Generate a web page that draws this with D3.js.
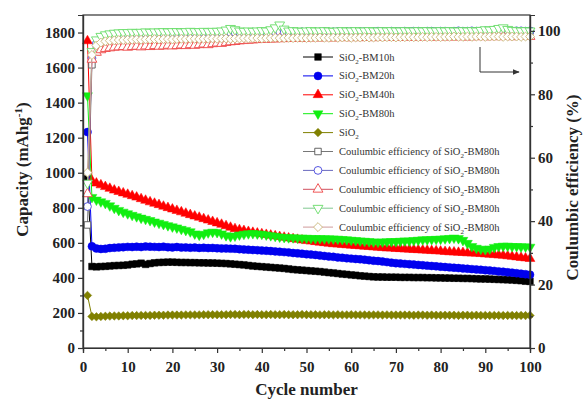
<!DOCTYPE html>
<html>
<head>
<meta charset="utf-8">
<script src="https://cdn.jsdelivr.net/npm/d3@7"></script>
<style>
  body { margin: 0; background: #fff; }
  text { font-family: "Liberation Serif", "Times New Roman", serif; }
</style>
</head>
<body>
<div id="chart"></div>
<script>
// Capacity (mAh g-1), cycles 1..100
const capBM10h = [
  965, 465, 463, 465, 466, 468, 470, 471, 472, 474,
  478, 480, 484, 477, 482, 486, 488, 489, 490, 490,
  489, 488, 488, 487, 487, 486, 486, 485, 485, 484,
  483, 482, 480, 478, 476, 474, 471, 468, 466, 464,
  462, 460, 458, 456, 454, 451, 448, 446, 444, 442,
  440, 438, 436, 433, 430, 428, 425, 422, 420, 417,
  415, 412, 410, 408, 406, 405, 405, 404, 404, 404,
  403, 403, 403, 402, 402, 402, 401, 401, 400, 400,
  399, 399, 398, 398, 397, 397, 396, 395, 394, 394,
  393, 392, 391, 390, 389, 388, 386, 384, 381, 380];
const capBM20h = [
  1232, 580, 568, 565, 566, 570, 572, 574, 575, 577,
  576, 578, 576, 579, 578, 577, 576, 578, 575, 574,
  576, 573, 574, 572, 573, 571, 572, 570, 571, 569,
  568, 568, 567, 566, 564, 562, 561, 559, 558, 556,
  555, 553, 551, 549, 547, 545, 542, 540, 538, 535,
  533, 531, 528, 525, 522, 520, 517, 515, 512, 510,
  508, 506, 504, 501, 498, 496, 493, 490, 487, 484,
  482, 480, 478, 476, 474, 472, 470, 468, 466, 464,
  462, 460, 458, 456, 454, 452, 450, 448, 446, 444,
  442, 440, 437, 435, 432, 430, 427, 424, 421, 418];
const capBM40h = [
  1752, 955, 940, 930, 920, 910, 900, 892, 884, 876,
  868, 860, 851, 842, 833, 825, 817, 808, 800, 792,
  784, 776, 768, 760, 752, 745, 737, 729, 721, 713,
  705, 697, 688, 680, 674, 669, 664, 659, 655, 651,
  647, 643, 639, 635, 631, 627, 623, 619, 615, 612,
  609, 606, 603, 600, 597, 594, 592, 590, 588, 586,
  584, 582, 580, 578, 576, 574, 572, 570, 569, 567,
  566, 564, 563, 561, 560, 558, 557, 555, 554, 552,
  550, 548, 547, 545, 544, 542, 541, 540, 538, 536,
  534, 532, 530, 528, 525, 522, 519, 516, 513, 510];
const capBM80h = [
  1440, 860, 845, 835, 826, 812, 798, 786, 776, 767,
  758, 750, 742, 735, 728, 720, 713, 706, 699, 692,
  686, 678, 672, 664, 652, 645, 650, 658, 662, 660,
  652, 642, 636, 640, 646, 650, 653, 654, 652, 650,
  646, 642, 638, 634, 632, 630, 630, 628, 628, 627,
  626, 625, 625, 624, 624, 623, 622, 620, 618, 616,
  614, 612, 610, 608, 606, 605, 606, 607, 608, 608,
  610, 612, 612, 614, 616, 618, 619, 620, 621, 622,
  624, 626, 628, 625, 615, 598, 580, 570, 565, 562,
  566, 575, 580, 582, 582, 580, 580, 578, 578, 576];
const capSiO2 = [
  300, 180, 178, 180, 181, 182, 183, 183, 184, 184,
  185, 185, 186, 186, 186, 187, 187, 187, 188, 188,
  188, 188, 189, 189, 189, 189, 190, 190, 190, 190,
  190, 190, 191, 191, 190, 191, 191, 190, 191, 190,
  190, 191, 190, 190, 191, 190, 190, 190, 191, 190,
  190, 190, 189, 190, 190, 189, 190, 189, 189, 190,
  189, 189, 189, 188, 189, 189, 188, 189, 188, 188,
  188, 188, 188, 187, 188, 188, 187, 188, 187, 187,
  187, 187, 187, 186, 187, 187, 186, 187, 186, 186,
  186, 186, 186, 185, 186, 186, 185, 186, 185, 185];

// Coulombic efficiency (%), cycles 1..100
const ceSquare = [
  38.8, 89.3, 95.4, 96.9, 97.6, 98.0, 98.3, 98.5, 98.6, 98.8,
  98.9, 98.9, 99.0, 99.0, 99.1, 99.0, 99.1, 99.2, 99.1, 99.2,
  99.2, 99.3, 99.2, 99.3, 99.3, 99.2, 99.3, 99.4, 99.3, 99.4,
  99.4, 99.3, 99.5, 99.4, 99.4, 99.5, 99.4, 99.5, 99.5, 99.4,
  99.5, 99.6, 99.5, 99.5, 99.6, 99.5, 99.6, 99.6, 99.5, 99.6,
  99.6, 99.7, 99.6, 99.6, 99.7, 99.6, 99.7, 99.7, 99.6, 99.7,
  99.7, 99.6, 99.7, 99.8, 99.7, 99.7, 99.8, 99.7, 99.7, 99.8,
  99.8, 99.7, 99.8, 99.8, 99.7, 99.8, 99.9, 99.8, 99.8, 99.7,
  99.8, 99.9, 99.8, 99.8, 99.9, 99.8, 99.9, 99.8, 99.9, 99.9,
  99.8, 99.9, 99.9, 99.8, 99.9, 99.9, 99.8, 99.9, 99.9, 99.9];
const ceCircle = [
  44.6, 91.4, 96.0, 97.4, 98.0, 98.4, 98.6, 98.8, 98.9, 99.0,
  99.0, 99.1, 99.1, 99.2, 99.1, 99.2, 99.2, 99.3, 99.2, 99.3,
  99.3, 99.4, 99.3, 99.4, 99.4, 99.3, 99.4, 99.5, 99.4, 99.5,
  99.5, 99.4, 99.5, 99.5, 99.6, 99.5, 99.5, 99.6, 99.5, 99.6,
  99.6, 99.5, 99.6, 99.7, 99.6, 99.6, 99.7, 99.6, 99.7, 99.7,
  99.6, 99.7, 99.7, 99.8, 99.7, 99.7, 99.8, 99.7, 99.8, 99.8,
  99.7, 99.8, 99.8, 99.7, 99.8, 99.9, 99.8, 99.8, 99.9, 99.8,
  99.8, 99.9, 99.8, 99.9, 99.9, 99.8, 99.9, 99.9, 99.8, 99.9,
  99.9, 99.8, 99.9, 100.0, 99.9, 99.9, 100.0, 99.9, 99.9, 100.0,
  99.9, 100.0, 99.9, 99.9, 100.0, 99.9, 100.0, 100.0, 99.9, 100.0];
const ceTriangle = [
  48.6, 91.0, 93.2, 94.0, 94.4, 94.6, 94.8, 94.9, 95.0, 94.8,
  95.0, 95.1, 94.9, 95.2, 95.0, 95.3, 95.1, 95.2, 95.4, 95.2,
  95.3, 95.5, 95.3, 95.6, 95.4, 95.6, 95.8, 95.6, 95.9, 96.1,
  96.0, 96.3, 96.5, 96.6, 96.8, 96.9, 97.0, 97.1, 97.2, 97.3,
  97.3, 97.4, 97.4, 97.5, 97.5, 97.6, 97.6, 97.7, 97.6, 97.7,
  97.7, 97.8, 97.7, 97.8, 97.8, 97.7, 97.8, 97.9, 97.8, 97.8,
  97.9, 97.8, 97.9, 97.9, 97.8, 97.9, 98.0, 97.9, 97.9, 98.0,
  97.9, 98.0, 98.0, 97.9, 98.0, 98.0, 98.1, 98.0, 98.0, 98.1,
  98.0, 98.1, 98.0, 98.1, 98.1, 98.0, 98.1, 98.1, 98.2, 98.1,
  98.1, 98.2, 98.1, 98.2, 98.2, 98.1, 98.2, 98.2, 98.2, 98.2];
const ceDown = [
  52.0, 93.5, 97.2, 98.3, 98.8, 99.1, 99.3, 99.4, 99.5, 99.5,
  99.6, 99.5, 99.6, 99.7, 99.6, 99.7, 99.7, 99.8, 99.7, 99.8,
  99.8, 99.7, 99.8, 99.9, 99.8, 99.8, 99.9, 99.8, 99.9, 99.9,
  100.0, 100.3, 100.8, 100.4, 100.0, 99.9, 100.0, 99.9, 100.0, 100.1,
  100.0, 100.4, 101.0, 101.9, 100.6, 100.0, 100.1, 100.0, 99.9, 100.0,
  100.1, 100.0, 100.0, 100.1, 100.0, 99.9, 100.0, 100.1, 100.0, 100.0,
  100.1, 100.0, 100.0, 100.1, 100.0, 100.0, 100.1, 100.0, 100.1, 100.0,
  100.0, 100.1, 100.0, 100.0, 100.1, 100.0, 100.1, 100.0, 100.0, 100.1,
  100.0, 100.1, 100.0, 100.0, 100.1, 100.0, 100.1, 100.0, 100.2, 100.4,
  100.3, 100.5, 100.8, 101.0, 100.5, 100.2, 100.1, 100.0, 100.1, 100.0];
const ceDiamond = [
  55.3, 92.4, 95.4, 96.3, 96.7, 96.9, 97.0, 97.1, 97.1, 97.2,
  97.2, 97.3, 97.2, 97.3, 97.3, 97.4, 97.3, 97.4, 97.4, 97.3,
  97.4, 97.5, 97.4, 97.5, 97.5, 97.4, 97.5, 97.5, 97.6, 97.5,
  97.6, 97.6, 97.5, 97.6, 97.6, 97.7, 97.6, 97.7, 97.7, 97.6,
  97.7, 97.7, 97.8, 97.7, 97.7, 97.8, 97.7, 97.8, 97.8, 97.7,
  97.8, 97.8, 97.9, 97.8, 97.8, 97.9, 97.8, 97.9, 97.9, 97.8,
  97.9, 97.9, 98.0, 97.9, 97.9, 98.0, 97.9, 98.0, 98.0, 97.9,
  98.0, 98.0, 98.1, 98.0, 98.0, 98.1, 98.0, 98.1, 98.1, 98.0,
  98.1, 98.1, 98.2, 98.1, 98.1, 98.2, 98.1, 98.2, 98.2, 98.1,
  98.2, 98.2, 98.2, 98.1, 98.2, 98.2, 98.2, 98.1, 98.2, 98.2];

const capTicks = [0, 200, 400, 600, 800, 1000, 1200, 1400, 1600, 1800];
const ceTicks = [0, 20, 40, 60, 80, 100];
const cycleTicks = [0, 10, 20, 30, 40, 50, 60, 70, 80, 90, 100];

const width = 583, height = 399;
const pL = 83, pR = 530, pT = 15, pB = 348;

const x = d3.scaleLinear().domain([0, 100]).range([pL, pR]);
const yL = d3.scaleLinear().domain([0, 1900]).range([pB, pT]);
const yR = d3.scaleLinear().domain([0, 105]).range([pB, pT]);

// series styling: capacity = filled markers on left axis, CE = open markers on right axis
const series = [
  { label: ["SiO", "2", "-BM10h"], values: capBM10h, y: yL, sym: d3.symbolSquare, size: 44, rot: 0, stroke: "#000", fill: "#000", line: "#000" },
  { label: ["SiO", "2", "-BM20h"], values: capBM20h, y: yL, sym: d3.symbolCircle, size: 50, rot: 0, stroke: "#0000ee", fill: "#0000ee", line: "#0000ee" },
  { label: ["SiO", "2", "-BM40h"], values: capBM40h, y: yL, sym: d3.symbolTriangle, size: 42, rot: 0, stroke: "#ff0000", fill: "#ff0000", line: "#ff0000" },
  { label: ["SiO", "2", "-BM80h"], values: capBM80h, y: yL, sym: d3.symbolTriangle, size: 42, rot: 180, stroke: "#11ee11", fill: "#11ee11", line: "#11ee11" },
  { label: ["SiO", "2", ""], values: capSiO2, y: yL, sym: d3.symbolSquare, size: 36, rot: 45, stroke: "#808000", fill: "#808000", line: "#808000" },
  { label: ["Coulumbic efficiency of SiO", "2", "-BM80h"], values: ceSquare, y: yR, sym: d3.symbolSquare, size: 42, rot: 0, stroke: "#555", fill: "#fff", line: "#777" },
  { label: ["Coulumbic efficiency of SiO", "2", "-BM80h"], values: ceCircle, y: yR, sym: d3.symbolCircle, size: 48, rot: 0, stroke: "#4444dd", fill: "#fff", line: "#6a6abf" },
  { label: ["Coulumbic efficiency of SiO", "2", "-BM80h"], values: ceTriangle, y: yR, sym: d3.symbolTriangle, size: 42, rot: 0, stroke: "#ee4444", fill: "#fff", line: "#d05060" },
  { label: ["Coulumbic efficiency of SiO", "2", "-BM80h"], values: ceDown, y: yR, sym: d3.symbolTriangle, size: 42, rot: 180, stroke: "#66dd66", fill: "#fff", line: "#80c890" },
  { label: ["Coulumbic efficiency of SiO", "2", "-BM80h"], values: ceDiamond, y: yR, sym: d3.symbolSquare, size: 40, rot: 45, stroke: "#cdbb80", fill: "#fff", line: "#cf9a9a" }
];

const svg = d3.select("#chart").append("svg")
  .attr("width", width)
  .attr("height", height)
  .attr("viewBox", [0, 0, width, height]);

// data
series.forEach(s => {
  const pts = s.values.map((v, i) => [x(i + 1), s.y(v)]);
  svg.append("path")
    .attr("d", d3.line()(pts))
    .attr("fill", "none")
    .attr("stroke", s.line)
    .attr("stroke-width", 1);
  const sym = d3.symbol(s.sym, s.size);
  svg.append("g").selectAll("path")
    .data(pts)
    .join("path")
    .attr("d", sym)
    .attr("transform", d => `translate(${d[0]},${d[1]}) rotate(${s.rot})`)
    .attr("fill", s.fill)
    .attr("stroke", s.stroke)
    .attr("stroke-width", s.fill === "#fff" ? 0.9 : 0.5);
});

// frame
svg.append("rect")
  .attr("x", pL).attr("y", pT)
  .attr("width", pR - pL).attr("height", pB - pT)
  .attr("fill", "none").attr("stroke", "#333").attr("stroke-width", 1.2);

function styleAxis(g) {
  g.select(".domain").attr("stroke", "#333").attr("stroke-width", 1.2);
  g.selectAll("line").attr("stroke", "#333").attr("stroke-width", 1.2);
  g.selectAll("text")
    .style("font-family", "'Liberation Serif', 'Times New Roman', serif")
    .attr("font-size", 15).attr("font-weight", "bold").attr("fill", "#222");
}

const fmt = d3.format("d");

// minor ticks
svg.append("g").attr("transform", `translate(0,${pB})`)
  .call(d3.axisBottom(x).tickValues(d3.range(5, 100, 10)).tickSize(3).tickFormat(""))
  .call(styleAxis);
svg.append("g").attr("transform", `translate(${pL},0)`)
  .call(d3.axisLeft(yL).tickValues(d3.range(100, 1900, 200)).tickSize(3).tickFormat(""))
  .call(styleAxis);
svg.append("g").attr("transform", `translate(${pR},0)`)
  .call(d3.axisRight(yR).tickValues(d3.range(10, 100, 20)).tickSize(3).tickFormat(""))
  .call(styleAxis);

// major ticks
svg.append("g").attr("transform", `translate(0,${pB})`)
  .call(d3.axisBottom(x).tickValues(cycleTicks).tickSize(5).tickPadding(8).tickFormat(fmt))
  .call(styleAxis);
svg.append("g").attr("transform", `translate(${pL},0)`)
  .call(d3.axisLeft(yL).tickValues(capTicks).tickSize(5).tickPadding(3).tickFormat(fmt))
  .call(styleAxis);
svg.append("g").attr("transform", `translate(${pR},0)`)
  .call(d3.axisRight(yR).tickValues(ceTicks).tickSize(5).tickPadding(3).tickFormat(fmt))
  .call(styleAxis);

// axis titles
svg.append("text")
  .attr("x", (pL + pR) / 2).attr("y", 395)
  .attr("text-anchor", "middle")
  .attr("font-size", 17).attr("font-weight", "bold").attr("fill", "#222")
  .text("Cycle number");

const capTitle = svg.append("text")
  .attr("transform", `translate(28,${(pT + pB) / 2 - 12}) rotate(-90)`)
  .attr("text-anchor", "middle")
  .attr("font-size", 17).attr("font-weight", "bold").attr("fill", "#222");
capTitle.append("tspan").text("Capacity (mAhg");
capTitle.append("tspan").attr("dy", -6).attr("font-size", 11).text("-1");
capTitle.append("tspan").attr("dy", 6).text(")");

svg.append("text")
  .attr("transform", `translate(578,${(pT + pB) / 2 + 6}) rotate(-90)`)
  .attr("text-anchor", "middle")
  .attr("font-size", 17).attr("font-weight", "bold").attr("fill", "#222")
  .text("Coulumbic efficiency (%)");

// legend
const legend = svg.append("g");
series.forEach((s, i) => {
  const ly = 57 + i * 18.9;
  legend.append("line")
    .attr("x1", 303).attr("x2", 333).attr("y1", ly).attr("y2", ly)
    .attr("stroke", s.line).attr("stroke-width", 1);
  legend.append("path")
    .attr("d", d3.symbol(s.sym, s.size)())
    .attr("transform", `translate(318,${ly}) rotate(${s.rot})`)
    .attr("fill", s.fill).attr("stroke", s.stroke)
    .attr("stroke-width", s.fill === "#fff" ? 0.9 : 0.5);
  const t = legend.append("text")
    .attr("x", 339).attr("y", ly + 3.5)
    .attr("font-size", 10.5).attr("fill", "#333");
  t.append("tspan").text(s.label[0]);
  t.append("tspan").attr("dy", 3).attr("font-size", 7).text(s.label[1]);
  t.append("tspan").attr("dy", -3).text(s.label[2]);
});

// arrow pointing to the right axis
svg.append("defs").append("marker")
  .attr("id", "arrow").attr("viewBox", "0 0 10 10")
  .attr("refX", 9).attr("refY", 5)
  .attr("markerWidth", 7).attr("markerHeight", 7)
  .attr("orient", "auto")
  .append("path").attr("d", "M0,1L10,5L0,9Z").attr("fill", "#333");
svg.append("path")
  .attr("d", "M480,47V72H519")
  .attr("fill", "none").attr("stroke", "#333").attr("stroke-width", 1)
  .attr("marker-end", "url(#arrow)");
</script>
</body>
</html>
